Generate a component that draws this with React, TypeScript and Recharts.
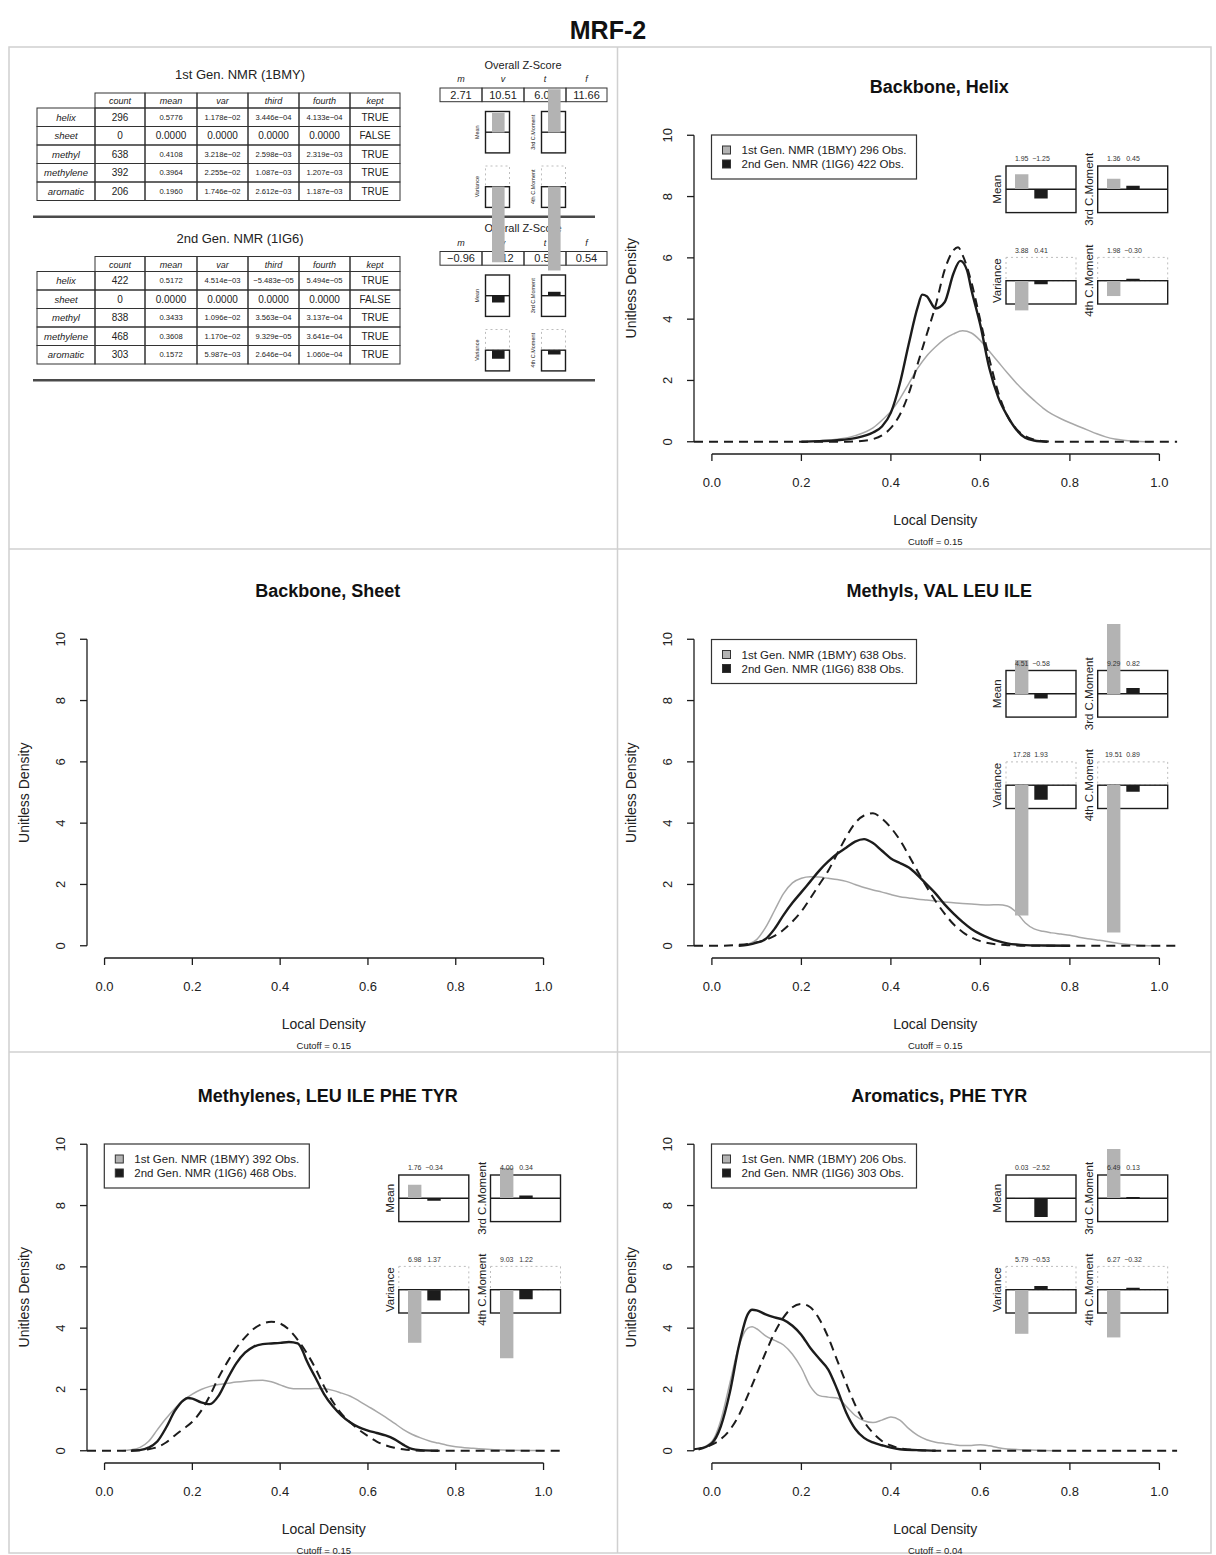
import React from "react";
import {
  LineChart,
  Line,
  XAxis,
  YAxis,
  ReferenceLine,
  BarChart,
  Bar,
  Cell,
  LabelList,
} from "recharts";

const FONT = "'Liberation Sans', Arial, Helvetica, sans-serif";
const INK = "#1c1c1c";
const CURVE_GREY = "#a8a8a8";
const BAR_GREY = "#b3b3b3";
const FRAME = "#d0d0d0";

const KY = 30.65; // px per density unit
const K_INSET = 7.55; // px per z unit in the plot insets
const K_TABLE = 7.2; // px per z unit next to the tables

const X_TICKS = [0, 0.2, 0.4, 0.6, 0.8, 1];
const Y_TICKS = [0, 2, 4, 6, 8, 10];

// density curves: [local density, unitless density]
const HELIX_1ST = [
  [0.2, 0], [0.24, 0.03], [0.28, 0.08], [0.32, 0.2], [0.36, 0.45], [0.38, 0.7],
  [0.4, 1.0], [0.42, 1.4], [0.44, 1.9], [0.46, 2.4], [0.48, 2.8], [0.5, 3.1],
  [0.52, 3.35], [0.54, 3.52], [0.56, 3.62], [0.58, 3.55], [0.6, 3.3], [0.62, 2.95],
  [0.64, 2.6], [0.66, 2.25], [0.68, 1.92], [0.7, 1.62], [0.72, 1.35], [0.74, 1.1],
  [0.76, 0.9], [0.78, 0.75], [0.8, 0.62], [0.82, 0.5], [0.84, 0.38], [0.86, 0.26],
  [0.88, 0.16], [0.9, 0.09], [0.92, 0.05], [0.95, 0.02], [0.98, 0],
];
const HELIX_2ND = [
  [0.2, 0], [0.24, 0.02], [0.28, 0.05], [0.32, 0.12], [0.36, 0.3], [0.38, 0.5],
  [0.4, 0.95], [0.42, 1.9], [0.44, 3.2], [0.46, 4.4], [0.47, 4.8], [0.48, 4.75],
  [0.5, 4.35], [0.52, 4.55], [0.54, 5.5], [0.555, 5.9], [0.57, 5.6], [0.58, 4.95],
  [0.6, 3.8], [0.62, 2.4], [0.64, 1.45], [0.66, 0.85], [0.68, 0.4], [0.7, 0.13],
  [0.72, 0.04], [0.75, 0],
];
const HELIX_REF = [
  [-0.04, 0], [0.3, 0], [0.34, 0.03], [0.36, 0.085], [0.38, 0.21], [0.4, 0.45],
  [0.42, 0.88], [0.44, 1.58], [0.46, 2.55], [0.48, 3.5], [0.5, 4.45], [0.52, 5.6],
  [0.54, 6.25], [0.55, 6.35], [0.56, 6.1], [0.58, 5.2], [0.6, 3.95], [0.62, 2.7],
  [0.64, 1.6], [0.66, 0.85], [0.68, 0.42], [0.7, 0.18], [0.72, 0.07], [0.74, 0.02],
  [0.78, 0], [1.04, 0],
];

const METHYL_1ST = [
  [0.06, 0], [0.08, 0.05], [0.1, 0.2], [0.12, 0.6], [0.14, 1.15], [0.16, 1.7],
  [0.18, 2.05], [0.2, 2.2], [0.22, 2.25], [0.24, 2.24], [0.26, 2.2], [0.28, 2.16],
  [0.3, 2.1], [0.32, 2.0], [0.34, 1.9], [0.36, 1.82], [0.38, 1.75], [0.4, 1.67],
  [0.42, 1.6], [0.44, 1.56], [0.46, 1.52], [0.48, 1.49], [0.5, 1.46], [0.52, 1.43],
  [0.54, 1.4], [0.56, 1.38], [0.58, 1.36], [0.6, 1.34], [0.62, 1.33], [0.64, 1.34],
  [0.66, 1.3], [0.68, 1.1], [0.7, 0.75], [0.72, 0.55], [0.74, 0.47], [0.76, 0.42],
  [0.78, 0.38], [0.8, 0.34], [0.82, 0.28], [0.84, 0.23], [0.86, 0.19], [0.88, 0.15],
  [0.9, 0.1], [0.92, 0.06], [0.94, 0.03], [0.96, 0.01], [1.0, 0],
];
const METHYL_2ND = [
  [0.06, 0], [0.08, 0.03], [0.1, 0.1], [0.12, 0.22], [0.14, 0.55], [0.16, 1.0],
  [0.18, 1.4], [0.2, 1.75], [0.22, 2.1], [0.24, 2.45], [0.26, 2.75], [0.28, 3.0],
  [0.3, 3.2], [0.32, 3.4], [0.34, 3.48], [0.36, 3.35], [0.38, 3.1], [0.4, 2.85],
  [0.42, 2.7], [0.44, 2.55], [0.46, 2.3], [0.48, 2.0], [0.5, 1.7], [0.52, 1.35],
  [0.54, 1.05], [0.56, 0.78], [0.58, 0.55], [0.6, 0.38], [0.62, 0.25], [0.64, 0.15],
  [0.66, 0.08], [0.68, 0.04], [0.7, 0.02], [0.74, 0.01], [0.8, 0],
];
const METHYL_REF = [
  [-0.04, 0], [0.02, 0], [0.06, 0.03], [0.08, 0.06], [0.1, 0.11], [0.12, 0.19],
  [0.14, 0.32], [0.16, 0.52], [0.18, 0.79], [0.2, 1.12], [0.22, 1.55], [0.24, 2.0],
  [0.26, 2.45], [0.28, 3.0], [0.3, 3.55], [0.32, 4.0], [0.34, 4.25], [0.36, 4.32],
  [0.38, 4.15], [0.4, 3.85], [0.42, 3.45], [0.44, 2.95], [0.46, 2.42], [0.48, 1.92],
  [0.5, 1.45], [0.52, 1.05], [0.54, 0.7], [0.56, 0.45], [0.58, 0.27], [0.6, 0.15],
  [0.62, 0.08], [0.64, 0.04], [0.66, 0.02], [0.7, 0], [1.04, 0],
];

const METHYLENE_1ST = [
  [0.04, 0], [0.06, 0.03], [0.08, 0.1], [0.1, 0.3], [0.12, 0.68], [0.14, 1.05],
  [0.16, 1.38], [0.18, 1.65], [0.2, 1.85], [0.22, 2.0], [0.24, 2.1], [0.26, 2.16],
  [0.28, 2.2], [0.3, 2.24], [0.32, 2.27], [0.34, 2.29], [0.36, 2.3], [0.38, 2.25],
  [0.4, 2.15], [0.42, 2.05], [0.44, 2.02], [0.46, 2.02], [0.48, 2.03], [0.5, 2.02],
  [0.52, 1.97], [0.54, 1.88], [0.56, 1.78], [0.58, 1.62], [0.6, 1.45], [0.62, 1.28],
  [0.64, 1.1], [0.66, 0.9], [0.68, 0.7], [0.7, 0.54], [0.72, 0.42], [0.74, 0.32],
  [0.76, 0.25], [0.78, 0.18], [0.8, 0.13], [0.84, 0.08], [0.88, 0.04], [0.92, 0.02],
  [0.96, 0.01], [1.0, 0],
];
const METHYLENE_2ND = [
  [0.06, 0], [0.08, 0.02], [0.1, 0.1], [0.12, 0.3], [0.14, 0.75], [0.16, 1.3],
  [0.18, 1.65], [0.19, 1.72], [0.2, 1.7], [0.22, 1.58], [0.24, 1.52], [0.26, 1.8],
  [0.28, 2.35], [0.3, 2.85], [0.32, 3.2], [0.34, 3.4], [0.36, 3.48], [0.38, 3.5],
  [0.4, 3.52], [0.42, 3.55], [0.44, 3.5], [0.45, 3.3], [0.46, 2.95], [0.48, 2.4],
  [0.5, 1.85], [0.52, 1.45], [0.54, 1.15], [0.56, 0.92], [0.58, 0.76], [0.6, 0.66],
  [0.62, 0.58], [0.64, 0.5], [0.66, 0.38], [0.68, 0.2], [0.7, 0.06], [0.72, 0.02],
  [0.76, 0],
];
const METHYLENE_REF = [
  [-0.04, 0], [0.04, 0], [0.08, 0.02], [0.1, 0.05], [0.12, 0.12], [0.14, 0.27],
  [0.16, 0.5], [0.18, 0.72], [0.2, 0.95], [0.22, 1.3], [0.24, 1.8], [0.26, 2.4],
  [0.28, 2.9], [0.3, 3.35], [0.32, 3.7], [0.34, 3.98], [0.36, 4.15], [0.38, 4.21],
  [0.4, 4.15], [0.42, 3.95], [0.44, 3.62], [0.46, 3.2], [0.48, 2.7], [0.5, 2.1],
  [0.52, 1.6], [0.54, 1.2], [0.56, 0.92], [0.58, 0.68], [0.6, 0.48], [0.62, 0.3],
  [0.64, 0.18], [0.66, 0.1], [0.68, 0.05], [0.7, 0.02], [0.74, 0], [1.04, 0],
];

const AROMATIC_1ST = [
  [-0.03, 0.05], [0.0, 0.3], [0.02, 1.0], [0.04, 2.2], [0.06, 3.4], [0.08, 4.0],
  [0.09, 4.05], [0.1, 3.98], [0.12, 3.75], [0.14, 3.6], [0.16, 3.45], [0.18, 3.15],
  [0.2, 2.7], [0.22, 2.1], [0.24, 1.8], [0.26, 1.75], [0.28, 1.72], [0.3, 1.45],
  [0.32, 1.15], [0.34, 0.98], [0.36, 0.92], [0.38, 1.0], [0.4, 1.1], [0.42, 1.0],
  [0.44, 0.72], [0.46, 0.5], [0.48, 0.36], [0.5, 0.28], [0.52, 0.24], [0.54, 0.2],
  [0.56, 0.17], [0.58, 0.17], [0.6, 0.2], [0.62, 0.16], [0.64, 0.1], [0.66, 0.06],
  [0.7, 0.03], [0.74, 0.01], [0.78, 0],
];
const AROMATIC_2ND = [
  [-0.03, 0.05], [0.0, 0.25], [0.02, 0.8], [0.04, 1.9], [0.06, 3.4], [0.08, 4.45],
  [0.09, 4.6], [0.1, 4.58], [0.12, 4.45], [0.14, 4.35], [0.16, 4.27], [0.18, 4.08],
  [0.2, 3.78], [0.22, 3.35], [0.24, 3.0], [0.26, 2.65], [0.28, 2.0], [0.3, 1.25],
  [0.32, 0.72], [0.34, 0.42], [0.36, 0.27], [0.38, 0.18], [0.4, 0.1], [0.42, 0.05],
  [0.46, 0.02], [0.5, 0],
];
const AROMATIC_REF = [
  [-0.04, 0.05], [-0.02, 0.1], [0.0, 0.2], [0.02, 0.38], [0.04, 0.68], [0.06, 1.15],
  [0.08, 1.8], [0.1, 2.5], [0.12, 3.2], [0.14, 3.85], [0.16, 4.35], [0.18, 4.68],
  [0.2, 4.79], [0.22, 4.68], [0.24, 4.3], [0.26, 3.7], [0.28, 2.95], [0.3, 2.2],
  [0.32, 1.5], [0.34, 0.95], [0.36, 0.58], [0.38, 0.32], [0.4, 0.17], [0.42, 0.08],
  [0.44, 0.04], [0.46, 0.02], [0.5, 0], [1.04, 0],
];

// observation counts per panel [1st gen, 2nd gen]
const HELIX_OBS = [296, 422];
const METHYL_OBS = [638, 838];
const METHYLENE_OBS = [392, 468];
const AROMATIC_OBS = [206, 303];

// inset z-scores [1st gen, 2nd gen]
const HELIX_MEAN = [1.95, -1.25];
const HELIX_THIRD = [1.36, 0.45];
const HELIX_VAR = [3.88, 0.41];
const HELIX_FOURTH = [1.98, -0.3];
const METHYL_MEAN = [4.51, -0.58];
const METHYL_THIRD = [9.29, 0.82];
const METHYL_VAR = [17.28, 1.93];
const METHYL_FOURTH = [19.51, 0.89];
const METHYLENE_MEAN = [1.76, -0.34];
const METHYLENE_THIRD = [4.0, 0.34];
const METHYLENE_VAR = [6.98, 1.37];
const METHYLENE_FOURTH = [9.03, 1.22];
const AROMATIC_MEAN = [0.03, -2.52];
const AROMATIC_THIRD = [6.49, 0.13];
const AROMATIC_VAR = [5.79, -0.53];
const AROMATIC_FOURTH = [6.27, -0.32];

// summary tables
const ROW_NAMES = ["helix", "sheet", "methyl", "methylene", "aromatic"];
const HEADERS = ["count", "mean", "var", "third", "fourth", "kept"];
const GEN1_COUNT = [296, 0, 638, 392, 206];
const GEN1_MEAN = [0.5776, 0, 0.4108, 0.3964, 0.196];
const GEN1_VAR = [1.178e-2, 0, 3.218e-2, 2.255e-2, 1.746e-2];
const GEN1_THIRD = [3.446e-4, 0, 2.598e-3, 1.087e-3, 2.612e-3];
const GEN1_FOURTH = [4.133e-4, 0, 2.319e-3, 1.207e-3, 1.187e-3];
const GEN1_KEPT = [true, false, true, true, true];
const GEN1_Z = [2.71, 10.51, 6.03, 11.66];
const GEN2_COUNT = [422, 0, 838, 468, 303];
const GEN2_MEAN = [0.5172, 0, 0.3433, 0.3608, 0.1572];
const GEN2_VAR = [4.514e-3, 0, 1.096e-2, 1.17e-2, 5.987e-3];
const GEN2_THIRD = [-5.483e-5, 0, 3.563e-4, 9.329e-5, 2.646e-4];
const GEN2_FOURTH = [5.494e-5, 0, 3.137e-4, 3.641e-4, 1.06e-4];
const GEN2_KEPT = [true, false, true, true, true];
const GEN2_Z = [-0.96, 1.12, 0.53, 0.54];
const Z_HEAD = ["m", "v", "t", "f"];

const PANELS = [
  {
    title: "Backbone, Helix", x0: 711.5, pu: 447.5, y0: 441.5, cutoff: "0.15",
    first: HELIX_1ST, second: HELIX_2ND, ref: HELIX_REF, obs: HELIX_OBS,
    mean: HELIX_MEAN, third: HELIX_THIRD, variance: HELIX_VAR, fourth: HELIX_FOURTH,
  },
  { title: "Backbone, Sheet", x0: 104.3, pu: 439, y0: 946, cutoff: "0.15" },
  {
    title: "Methyls, VAL LEU ILE", x0: 711.5, pu: 447.5, y0: 946, cutoff: "0.15",
    first: METHYL_1ST, second: METHYL_2ND, ref: METHYL_REF, obs: METHYL_OBS,
    mean: METHYL_MEAN, third: METHYL_THIRD, variance: METHYL_VAR, fourth: METHYL_FOURTH,
  },
  {
    title: "Methylenes, LEU ILE PHE TYR", x0: 104.3, pu: 439, y0: 1450.5, cutoff: "0.15",
    first: METHYLENE_1ST, second: METHYLENE_2ND, ref: METHYLENE_REF, obs: METHYLENE_OBS,
    mean: METHYLENE_MEAN, third: METHYLENE_THIRD, variance: METHYLENE_VAR, fourth: METHYLENE_FOURTH,
  },
  {
    title: "Aromatics, PHE TYR", x0: 711.5, pu: 447.5, y0: 1450.5, cutoff: "0.04",
    first: AROMATIC_1ST, second: AROMATIC_2ND, ref: AROMATIC_REF, obs: AROMATIC_OBS,
    mean: AROMATIC_MEAN, third: AROMATIC_THIRD, variance: AROMATIC_VAR, fourth: AROMATIC_FOURTH,
  },
];

const minus = (s: string) => s.replace("-", "\u2212");
const fix2 = (v: number) => minus(v.toFixed(2));
const sci = (v: number) => {
  if (v === 0) return "0.0000";
  const [m, e] = v.toExponential(3).split("e");
  const n = Number(e);
  return `${minus(m)}e${n < 0 ? "\u2212" : "+"}${String(Math.abs(n)).padStart(2, "0")}`;
};
const toRows = (s: number[][]) => s.map(([x, y]) => ({ x, y }));

function XTick(props: any) {
  const { x, y, payload } = props;
  return (
    <text x={x} y={y + 26} textAnchor="middle" fontSize={13} fill="#222" fontFamily={FONT}>
      {payload.value.toFixed(1)}
    </text>
  );
}

function YTick(props: any) {
  const { x, y, payload } = props;
  const bx = x - 22;
  return (
    <g>
      <line x1={x - 7} x2={x} y1={y} y2={y} stroke={INK} strokeWidth={1.3} />
      <text x={bx} y={y} transform={`rotate(-90 ${bx} ${y})`} textAnchor="middle" fontSize={13} fill="#222" fontFamily={FONT}>
        {payload.value}
      </text>
    </g>
  );
}

function DensityChart({ p }: { p: any }) {
  const plotLeft = p.x0 - 0.04 * p.pu;
  const plotW = 1.08 * p.pu;
  const plotTop = p.y0 - 10.4 * KY;
  const plotH = 10.8 * KY;
  const YW = 70;
  const XH = 50;
  const MT = 5;
  const MR = 5;
  return (
    <div style={{ position: "absolute", left: plotLeft - YW, top: plotTop - MT }}>
      <LineChart
        width={YW + plotW + MR}
        height={MT + plotH + XH}
        margin={{ top: MT, right: MR, bottom: 0, left: 0 }}
      >
        <XAxis
          type="number"
          dataKey="x"
          domain={[-0.04, 1.04]}
          allowDataOverflow
          ticks={X_TICKS}
          interval={0}
          height={XH}
          axisLine={false}
          tickSize={7}
          tickMargin={0}
          tickLine={{ stroke: INK, strokeWidth: 1.3 }}
          tick={XTick}
        />
        <YAxis
          type="number"
          dataKey="y"
          domain={[-0.4, 10.4]}
          allowDataOverflow
          ticks={Y_TICKS}
          interval={0}
          width={YW}
          axisLine={false}
          tickLine={false}
          tickSize={0}
          tickMargin={0}
          tick={YTick}
        />
        <ReferenceLine
          segment={[{ x: 0, y: -0.4 }, { x: 1, y: -0.4 }]}
          stroke={INK}
          strokeWidth={1.3}
          ifOverflow="visible"
        />
        <ReferenceLine
          segment={[{ x: -0.04, y: 0 }, { x: -0.04, y: 10 }]}
          stroke={INK}
          strokeWidth={1.3}
          ifOverflow="visible"
        />
        {p.first && (
          <Line data={toRows(p.first)} dataKey="y" type="monotone" stroke={CURVE_GREY}
            strokeWidth={1.5} dot={false} isAnimationActive={false} />
        )}
        {p.ref && (
          <Line data={toRows(p.ref)} dataKey="y" type="monotone" stroke={INK}
            strokeWidth={2} strokeDasharray="9 6" dot={false} isAnimationActive={false} />
        )}
        {p.second && (
          <Line data={toRows(p.second)} dataKey="y" type="monotone" stroke={INK}
            strokeWidth={2.4} dot={false} isAnimationActive={false} />
        )}
      </LineChart>
    </div>
  );
}

function MomentBars(props: any) {
  const { values, colors, left, zero, width, k, span, reversed, barSize, padding, half, labels } = props;
  const h = 2 * span * k;
  const rows = values.map((v: number, i: number) => ({ name: `g${i}`, v }));
  const labelY = span * k - half - 4.5;
  return (
    <div style={{ position: "absolute", left, top: zero - span * k }}>
      <BarChart width={width} height={h} data={rows} margin={{ top: 0, right: 0, bottom: 0, left: 0 }}>
        <XAxis dataKey="name" hide padding={padding} />
        <YAxis hide type="number" domain={[-span, span]} allowDataOverflow reversed={reversed} />
        <Bar dataKey="v" barSize={barSize} isAnimationActive={false}>
          {rows.map((_: any, i: number) => (
            <Cell key={`c${i}`} fill={colors[i]} />
          ))}
          {labels && (
            <LabelList
              dataKey="v"
              content={(lp: any) => {
                const vb = lp.viewBox || lp;
                return (
                  <text x={vb.x + vb.width / 2} y={labelY} textAnchor="middle" fontSize={7}
                    fill="#333" fontFamily={FONT}>
                    {fix2(lp.value)}
                  </text>
                );
              }}
            />
          )}
        </Bar>
      </BarChart>
    </div>
  );
}

const INSET_W = 70;
const INSET_HALF = 23.3;
const insetGeom = (p: any) => ({
  mL: p.x0 + 294.5,
  tL: p.x0 + 386.2,
  zU: p.y0 - 252.2,
  zL: p.y0 - 160.8,
});

function Insets({ p }: { p: any }) {
  if (!p.mean) return null;
  const g = insetGeom(p);
  const common = {
    colors: [BAR_GREY, INK], width: INSET_W, k: K_INSET, span: 22, barSize: 13.4,
    padding: { left: 6, right: 25.4 }, half: INSET_HALF, labels: true,
  };
  return (
    <>
      <MomentBars {...common} values={p.mean} left={g.mL} zero={g.zU} />
      <MomentBars {...common} values={p.third} left={g.tL} zero={g.zU} />
      <MomentBars {...common} values={p.variance} left={g.mL} zero={g.zL} reversed />
      <MomentBars {...common} values={p.fourth} left={g.tL} zero={g.zL} reversed />
    </>
  );
}

function RotText({ x, y, size, children, fill = "#222" }: any) {
  return (
    <text x={x} y={y} transform={`rotate(-90 ${x} ${y})`} textAnchor="middle" fontSize={size}
      fill={fill} fontFamily={FONT}>
      {children}
    </text>
  );
}

function MomentFrames({ mL, tL, zU, zL, w, half, size, gap }: any) {
  const solid = { fill: "none", stroke: INK, strokeWidth: 1.4 };
  const dotted = { fill: "none", stroke: "#bdbdbd", strokeWidth: 1, strokeDasharray: "2 3" };
  return (
    <g>
      {[mL, tL].map((L: number) => (
        <g key={`u${L}`}>
          <rect x={L} y={zU - half} width={w} height={2 * half} {...solid} />
          <line x1={L} x2={L + w} y1={zU} y2={zU} stroke={INK} strokeWidth={1.4} />
          <rect x={L} y={zL - half} width={w} height={half} {...dotted} />
          <rect x={L} y={zL} width={w} height={half} {...solid} />
        </g>
      ))}
      <RotText x={mL - gap} y={zU} size={size}>Mean</RotText>
      <RotText x={tL - gap} y={zU} size={size}>3rd C.Moment</RotText>
      <RotText x={mL - gap} y={zL} size={size}>Variance</RotText>
      <RotText x={tL - gap} y={zL} size={size}>4th C.Moment</RotText>
    </g>
  );
}

function PanelDecor({ p }: { p: any }) {
  const axisLeft = p.x0 - 0.04 * p.pu;
  const axisY = p.y0 + 0.4 * KY;
  const cx = p.x0 + 0.5 * p.pu;
  const midY = p.y0 - 5 * KY;
  const legTop = p.y0 - 10 * KY;
  return (
    <g fontFamily={FONT}>
      <text x={cx + 4} y={p.y0 - 349} textAnchor="middle" fontSize={18} fontWeight="bold" fill="#111">
        {p.title}
      </text>
      <RotText x={axisLeft - 58} y={midY} size={14}>Unitless Density</RotText>
      <text x={cx} y={axisY + 71} textAnchor="middle" fontSize={14} fill="#222">Local Density</text>
      <text x={cx} y={axisY + 91} textAnchor="middle" fontSize={9.5} fill="#222">
        {`Cutoff = ${p.cutoff}`}
      </text>
      {p.obs && (
        <g>
          <rect x={p.x0} y={legTop} width={205} height={44} fill="#fff" stroke="#333" strokeWidth={1.2} />
          <rect x={p.x0 + 11} y={legTop + 11} width={8} height={8} fill={BAR_GREY} stroke="#333" strokeWidth={1} />
          <rect x={p.x0 + 11} y={legTop + 25} width={8} height={8} fill={INK} stroke="#333" strokeWidth={1} />
          <text x={p.x0 + 30} y={legTop + 19} fontSize={11.5} fill="#222">
            {`1st Gen. NMR (1BMY) ${p.obs[0]} Obs.`}
          </text>
          <text x={p.x0 + 30} y={legTop + 33} fontSize={11.5} fill="#222">
            {`2nd Gen. NMR (1IG6) ${p.obs[1]} Obs.`}
          </text>
        </g>
      )}
      {p.mean && (
        <MomentFrames {...insetGeom(p)} w={INSET_W} half={INSET_HALF} size={11.5} gap={4.5} />
      )}
    </g>
  );
}

const TABLE_COLS = [37, 95, 145, 197, 248, 299, 350, 400];
const Z_COLS = [440, 482, 524, 566, 607];

function StatsBlock({ o, title, count, mean, vari, third, fourth, kept, z }: any) {
  const headTop = 93 + o;
  const rowTop = headTop + 15;
  const rowH = 18.5;
  const rows = ROW_NAMES.map((name, i) => [
    String(count[i]),
    mean[i] === 0 ? "0.0000" : mean[i].toFixed(4),
    sci(vari[i]),
    sci(third[i]),
    sci(fourth[i]),
    kept[i] ? "TRUE" : "FALSE",
  ]);
  const sizeOf = (s: string, c: number) => {
    if (c === 0 || c === 5) return 10;
    if (s === "0.0000") return 10;
    return 7.6;
  };
  const cellStroke = { fill: "none", stroke: "#333", strokeWidth: 1 };
  return (
    <g fontFamily={FONT} fill="#222">
      <text x={240} y={79 + o} textAnchor="middle" fontSize={13}>{title}</text>
      {HEADERS.map((h, c) => (
        <g key={h}>
          <rect x={TABLE_COLS[c + 1]} y={headTop} width={TABLE_COLS[c + 2] - TABLE_COLS[c + 1]} height={15} {...cellStroke} />
          <text x={(TABLE_COLS[c + 1] + TABLE_COLS[c + 2]) / 2} y={headTop + 11} textAnchor="middle"
            fontSize={9} fontStyle="italic">{h}</text>
        </g>
      ))}
      {ROW_NAMES.map((name, r) => {
        const y = rowTop + r * rowH;
        return (
          <g key={name}>
            <rect x={TABLE_COLS[0]} y={y} width={TABLE_COLS[1] - TABLE_COLS[0]} height={rowH} {...cellStroke} />
            <text x={(TABLE_COLS[0] + TABLE_COLS[1]) / 2} y={y + 12.5} textAnchor="middle" fontSize={9.5}
              fontStyle="italic">{name}</text>
            {rows[r].map((s, c) => {
              const fs = sizeOf(s, c);
              return (
                <g key={`${name}${c}`}>
                  <rect x={TABLE_COLS[c + 1]} y={y} width={TABLE_COLS[c + 2] - TABLE_COLS[c + 1]} height={rowH} {...cellStroke} />
                  <text x={(TABLE_COLS[c + 1] + TABLE_COLS[c + 2]) / 2} y={y + 9.25 + fs * 0.36}
                    textAnchor="middle" fontSize={fs}>{s}</text>
                </g>
              );
            })}
          </g>
        );
      })}
      <text x={523} y={68.5 + o} textAnchor="middle" fontSize={11}>Overall Z-Score</text>
      {Z_HEAD.map((h, c) => (
        <text key={h} x={(Z_COLS[c] + Z_COLS[c + 1]) / 2} y={82 + o} textAnchor="middle" fontSize={9}
          fontStyle="italic">{h}</text>
      ))}
      {z.map((v: number, c: number) => (
        <g key={`z${c}`}>
          <rect x={Z_COLS[c]} y={88 + o} width={Z_COLS[c + 1] - Z_COLS[c]} height={13.7} {...cellStroke} />
          <text x={(Z_COLS[c] + Z_COLS[c + 1]) / 2} y={98.8 + o} textAnchor="middle" fontSize={11}>
            {fix2(v)}
          </text>
        </g>
      ))}
      <MomentFrames mL={485.5} tL={541.5} zU={132.2 + o} zL={186.7 + o} w={24} half={20.7} size={5.5} gap={6} />
      <line x1={33} x2={595} y1={216.7 + o} y2={216.7 + o} stroke="#4a4a4a" strokeWidth={2.5} />
    </g>
  );
}

function TableBars({ o, z, color }: any) {
  const common = {
    colors: [color], width: 24, k: K_TABLE, span: 13, barSize: 12.6,
    padding: { left: 0, right: 0 }, half: 20.7, labels: false,
  };
  return (
    <>
      <MomentBars {...common} values={[z[0]]} left={485.5} zero={132.2 + o} />
      <MomentBars {...common} values={[z[2]]} left={541.5} zero={132.2 + o} />
      <MomentBars {...common} values={[z[1]]} left={485.5} zero={186.7 + o} reversed />
      <MomentBars {...common} values={[z[3]]} left={541.5} zero={186.7 + o} reversed />
    </>
  );
}

export default function App() {
  return (
    <div
      style={{
        position: "absolute",
        left: 0,
        top: 0,
        width: 1216,
        height: 1555,
        background: "#fff",
        fontFamily: FONT,
        overflow: "hidden",
      }}
    >
      <svg width={1216} height={1555} style={{ position: "absolute", left: 0, top: 0 }}>
        <text x={608} y={39} textAnchor="middle" fontSize={25} fontWeight="bold" fill="#111" fontFamily={FONT}>
          MRF-2
        </text>
        <rect x={9} y={47} width={1202} height={1506} fill="none" stroke={FRAME} strokeWidth={1.5} />
        <line x1={617.5} x2={617.5} y1={47} y2={1553} stroke={FRAME} strokeWidth={1.5} />
        <line x1={9} x2={1211} y1={549} y2={549} stroke={FRAME} strokeWidth={1.5} />
        <line x1={9} x2={1211} y1={1052} y2={1052} stroke={FRAME} strokeWidth={1.5} />
        <StatsBlock o={0} title="1st Gen. NMR (1BMY)" count={GEN1_COUNT} mean={GEN1_MEAN} vari={GEN1_VAR}
          third={GEN1_THIRD} fourth={GEN1_FOURTH} kept={GEN1_KEPT} z={GEN1_Z} />
        <StatsBlock o={163.5} title="2nd Gen. NMR (1IG6)" count={GEN2_COUNT} mean={GEN2_MEAN} vari={GEN2_VAR}
          third={GEN2_THIRD} fourth={GEN2_FOURTH} kept={GEN2_KEPT} z={GEN2_Z} />
        {PANELS.map((p) => (
          <PanelDecor key={p.title} p={p} />
        ))}
      </svg>
      {PANELS.map((p) => (
        <DensityChart key={`d${p.title}`} p={p} />
      ))}
      {PANELS.map((p) => (
        <Insets key={`i${p.title}`} p={p} />
      ))}
      <TableBars o={0} z={GEN1_Z} color={BAR_GREY} />
      <TableBars o={163.5} z={GEN2_Z} color={INK} />
    </div>
  );
}
